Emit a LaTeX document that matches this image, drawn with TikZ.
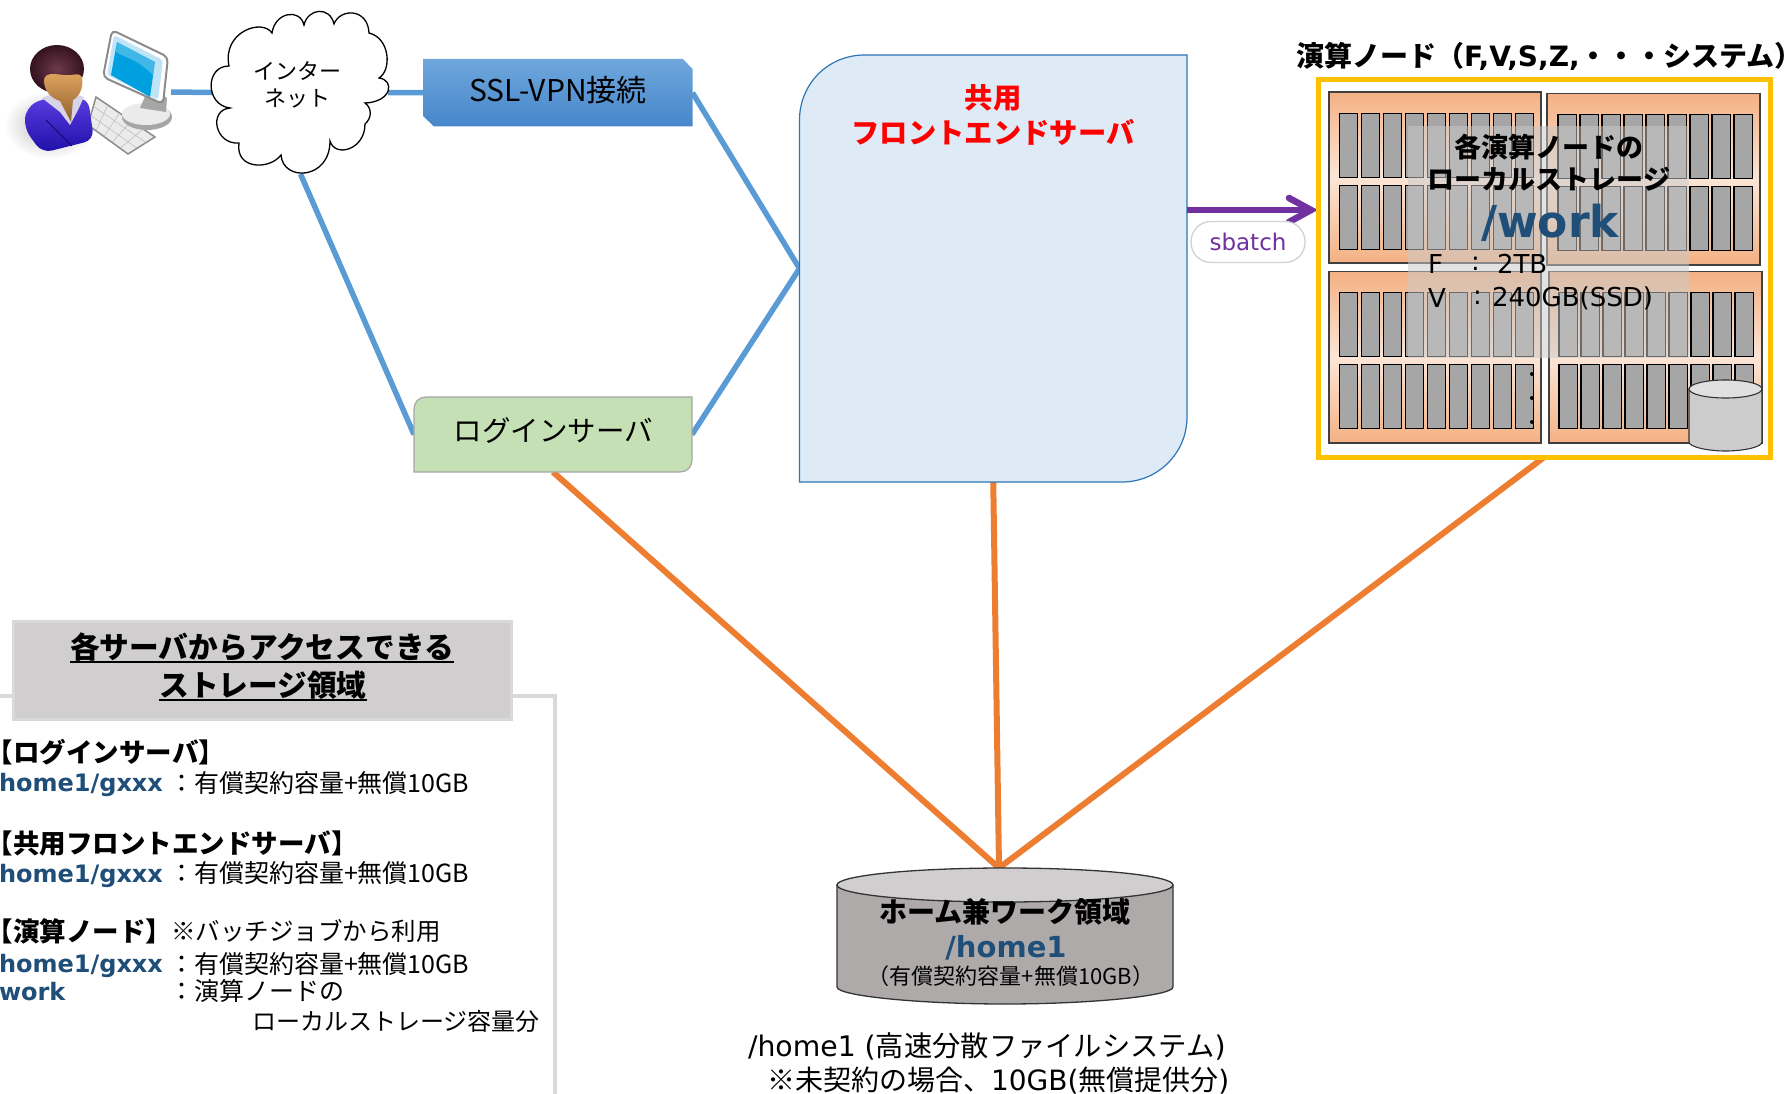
\documentclass[tikz,border=0pt]{standalone}
\usepackage{fontspec}
\usetikzlibrary{calc}
\setmainfont{Noto Sans CJK JP}
\newfontfamily\dv{DejaVu Sans}
\newcommand\fz[1]{\fontsize{#1}{#1}\selectfont}
\newcommand\ulx[1]{\leavevmode\setbox0\hbox{#1}\rlap{\rule[-5pt]{\wd0}{2.2pt}}\box0}
\definecolor{bluel}{HTML}{5B9BD5}
\definecolor{orangel}{HTML}{ED7D31}
\definecolor{navyt}{HTML}{1F4E79}
\definecolor{purpl}{HTML}{7030A0}
\definecolor{F4}{HTML}{F4B183}
\definecolor{FB}{HTML}{FBE5D6}
\definecolor{sslTop}{HTML}{6FA7DD}
\definecolor{sslBot}{HTML}{4686CA}
\definecolor{hairA}{HTML}{6E3A4A}
\definecolor{hairB}{HTML}{34121F}
\definecolor{faceA}{HTML}{E0A45E}
\definecolor{faceB}{HTML}{8F5E2E}
\definecolor{bodyA}{HTML}{5A3CE0}
\definecolor{bodyB}{HTML}{1E0FA8}
\definecolor{collar}{HTML}{D8D4E8}
\definecolor{scr}{HTML}{009FE0}
\definecolor{scrL}{HTML}{BFE3F7}
\tikzset{
 box/.style={inner sep=0pt,outer sep=0pt,minimum width=#1},
 txt/.style={inner sep=0pt,outer sep=0pt,text=black},
 bluelink/.style={draw=bluel,line width=5.5pt},
 orangelink/.style={draw=orangel,line width=6pt},
 panelbox/.style={draw=black!75,line width=1.2pt,top color=F4,bottom color=F4,middle color=FB},
 slotbox/.style={draw=black,line width=1.1pt,fill=black!35},
}
\newcommand\slots[3]{\foreach \i in {0,...,8}{\draw[slotbox] ({#1+\i*22},#2) rectangle ({#1+\i*22+18.3},#2+64);\draw[slotbox] ({#1+\i*22},#3) rectangle ({#1+\i*22+18.3},#3+64);}}
\begin{document}
\begin{tikzpicture}[x=1pt,y=-1pt]
\useasboundingbox (0,0) rectangle (1791,1094);
% anchors
\node[box=166pt,minimum height=100pt] (user) at (88,92) {};
\node[box=175pt,minimum height=163pt] (cloud) at (300.5,92.5) {};
\node[box=269.5pt,minimum height=67.5pt] (ssl) at (557.75,92.75) {};
\node[box=278pt,minimum height=75pt] (login) at (553,434.5) {};
\node[box=387.5pt,minimum height=427pt] (fe) at (993.25,268.5) {};
\node[box=452.7pt,minimum height=377pt] (frame) at (1544.35,268.5) {};
\coordinate (hometop) at (999,868);
\coordinate (sbfrom) at (fe.east |- 0,210);
\coordinate (sbto) at (1311,210);
\coordinate (sba) at (1289,198);
\coordinate (sbb) at (1289,222);
% connectors
\draw[bluelink] (user.east) -- (cloud.west);
\draw[bluelink] (cloud.east) -- (ssl.west);
\draw[bluelink] (cloud.south) -- (login.west);
\draw[bluelink] (ssl.east) -- (fe.west);
\draw[bluelink] (login.east) -- (fe.west);
\draw[orangelink] (login.south) -- (hometop);
\draw[orangelink] (fe.south) -- (hometop);
\draw[orangelink] (frame.south) -- (hometop);
% user icon
\shade[inner color=black!28,outer color=white] (50,125) ellipse [x radius=46,y radius=34];
\draw[black!45,line width=1.5pt,fill=black!8] (96,97) -- (155,137) -- (128,154) -- (88,125) -- cycle;
\foreach \t in {.2,.4,.6,.8}{\draw[black!30] ($(96,97)!\t!(155,137)$) -- ($(88,125)!\t!(128,154)$);}
\foreach \t in {.33,.66}{\draw[black!30] ($(96,97)!\t!(88,125)$) -- ($(155,137)!\t!(128,154)$);}
\fill[black!35] (147,117) ellipse [x radius=25,y radius=13];
\fill[black!8] (146,114) ellipse [x radius=24,y radius=11];
\fill[black!35] (150,85) -- (167,98) -- (166,112) -- (140,108) -- cycle;
\draw[black!45,fill=white,line width=2pt,rounded corners=5pt] (112,30) -- (168,57) -- (163,104) -- (103,77) -- cycle;
\fill[scrL,rounded corners=3pt] (114,35) -- (163,60) -- (158,100) -- (107,75) -- cycle;
\fill[scr] (117,42) -- (155,62) -- (150,97) -- (111,75) -- cycle;
\fill[white,opacity=.25] (117,42) -- (155,62) -- (153,75) .. controls (135,58) and (130,60) .. (116,52) -- cycle;
\shade[top color=bodyA,bottom color=bodyB,rounded corners=10pt] (43,98) -- (88,98) -- (94,140) -- (42,153) -- (24,128) -- (26,108) -- cycle;
\draw[bodyB!60!black,line width=.8pt] (46,120) -- (72,146);
\fill[collar] (42,98) -- (60,112) -- (70,125) -- (78,110) -- (84,97) -- (62,90) -- cycle;
\shade[inner color=hairA,outer color=hairB] (57,69) ellipse [x radius=27,y radius=24];
\shade[top color=faceA,bottom color=faceB] (44,80) .. controls (45,72) and (55,74) .. (63,75) .. controls (72,76) and (80,72) .. (82,77) .. controls (84,90) and (78,97) .. (73,100) -- (71,122) -- (60,101) .. controls (50,98) and (44,90) .. (44,80) -- cycle;
% cloud
\draw[line width=1.3pt,fill=white] (229,66) .. controls (222,32) and (262,18) .. (272,33) .. controls (275,12) and (300,8) .. (304,25) .. controls (308,8) and (330,6) .. (334,24) .. controls (340,8) and (368,8) .. (369,33) .. controls (390,38) and (392,70) .. (379,78) .. controls (395,80) and (392,102) .. (365,103) .. controls (372,108) and (372,118) .. (365,124) .. controls (365,150) and (335,158) .. (330,141) .. controls (330,180) and (283,182) .. (281,155) .. controls (270,170) and (235,170) .. (239,143) .. controls (215,145) and (208,110) .. (230,108) .. controls (205,105) and (205,66) .. (229,66) -- cycle;
\node[txt,align=center,font=\fz{22}] (cloudtxt) at (297,85) {インター\\[5pt]ネット};
% ssl
\shade[top color=sslTop,bottom color=sslBot] (423,59) -- (683,59) -- (692.5,69) -- (692.5,126.5) -- (434,126.5) -- (423,116) -- cycle;
\node[txt,font=\fz{30}] (ssltxt) at (558,90) {SSL-VPN接続};
% login
\draw[fill={rgb,255:red,197;green,224;blue,180},draw=black!35,line width=1.2pt] (414,409) .. controls (414,402) and (419,397) .. (426,397) -- (692,397) -- (692,460) .. controls (692,467) and (687,472) .. (680,472) -- (414,472) -- cycle;
\node[txt,font=\fz{28.5}] (logintxt) at (553.5,431) {ログインサーバ};
% front end
\draw[fill={rgb,255:red,222;green,235;blue,247},draw={rgb,255:red,46;green,117;blue,182},line width=1.2pt] (799.5,482) -- (799.5,120) .. controls (799.5,84) and (828,55) .. (864.5,55) -- (1187,55) -- (1187,417) .. controls (1187,453) and (1158,482) .. (1122,482) -- cycle;
\node[txt,align=center,font=\bfseries\fz{28.3},text=red] (fetxt) at (993,115) {共用\\[6pt]フロントエンドサーバ};
% sbatch
\draw[purpl,line width=6.5pt] (sbfrom) -- (sbto);
\draw[purpl,line width=6.5pt,line cap=round,line join=miter] (sba) -- (sbto) -- (sbb);
\node[draw=black!18,line width=1.3pt,fill=white,rounded corners=20pt,minimum width=114pt,minimum height=41pt,inner sep=0pt,text=purpl,font=\dv\fz{23}] (sb) at (1248,242) {sbatch};
% frame and panels
\draw[color={rgb,255:red,255;green,192;blue,0},line width=5pt] (frame.south west) rectangle (frame.north east);
\node[txt,anchor=west,font=\bfseries\fz{28}] (frametitle) at (1296,56) {演算ノード（{\dv F,V,S,Z,}・・・システム\makebox[0.5em][l]{）}};
\draw[panelbox] (1329,92) rectangle (1541,263);
\draw[panelbox] (1547,93.3) rectangle (1760,265);
\draw[panelbox] (1329,271.7) rectangle (1541,443);
\draw[panelbox] (1549,271.7) rectangle (1762,443);
\slots{1339.3}{113.3}{185.3}
\slots{1558}{114.7}{186.7}
\slots{1339.3}{292.7}{364.7}
\slots{1559}{292.7}{364.7}
\fill[black] (1532,374) circle [radius=2];
\fill[black] (1532,398) circle [radius=2];
\fill[black] (1532,422) circle [radius=2];
\fill[color={rgb,255:red,201;green,201;blue,201},opacity=.53] (1407.7,126) rectangle (1689,358);
\draw[black!80,line width=1.1pt,fill=black!20] (1689,389) -- (1689,442) .. controls (1689,447) and (1708,451) .. (1725.5,451) .. controls (1744,451) and (1762,447) .. (1762,442) -- (1762,389) -- cycle;
\draw[black!80,line width=1.1pt,fill=black!12] (1725.5,389) ellipse [x radius=36.5,y radius=9];
\node[txt,align=center,font=\bfseries\fz{27}] (wn) at (1549,163) {各演算ノードの\\[5pt]ローカルストレージ};
\node[txt,font=\dv\bfseries\fz{44},text=navyt] (wk) at (1550,223) {/work};
\node[txt,anchor=west,font=\dv\fz{26}] (wa) at (1428,264) {F};
\node[txt,anchor=west,font=\dv\fz{26}] (wb) at (1471,264) {:};
\node[txt,anchor=west,font=\dv\fz{26}] (wc) at (1497,264) {2TB};
\node[txt,anchor=west,font=\dv\fz{26}] (wd) at (1428,298) {V};
\node[txt,anchor=west,font=\dv\fz{26}] (we) at (1473,298) {:};
\node[txt,anchor=west,font=\dv\fz{26}] (wf) at (1492,298) {240GB(SSD)};
% home cylinder
\draw[black!80,line width=1.3pt,fill={rgb,255:red,174;green,170;blue,170}] (837,885) -- (837,987) .. controls (837,996) and (920,1004) .. (1005,1004) .. controls (1090,1004) and (1173,996) .. (1173,987) -- (1173,885) -- cycle;
\draw[black!80,line width=1.3pt,fill={rgb,255:red,208;green,206;blue,206}] (1005,885) ellipse [x radius=168,y radius=17];
\node[txt,font=\bfseries\fz{28}] (h1) at (1005,912) {ホーム兼ワーク領域};
\node[txt,font=\dv\bfseries\fz{29},text=navyt] (h2) at (1006,948) {/home1};
\node[txt,font=\fz{22}] (h3) at (1011,976) {（有償契約容量+無償10GB）};
\node[txt,anchor=west,font=\fz{28.3}] (h4) at (748,1046) {{\dv /home1 (}高速分散ファイルシステム{\dv )}};
\node[txt,anchor=west,font=\fz{28}] (h5) at (767,1081) {※未契約の場合、{\dv 10GB(}無償提供分{\dv )}};
% legend
\draw[black!15,line width=4pt] (0,696) -- (555,696) -- (555,1094);
\node[draw=black!15,line width=3pt,fill={rgb,255:red,208;green,206;blue,206},minimum width=498pt,minimum height=98pt,inner sep=0pt] (legend) at (262,670) {};
\node[txt,font=\bfseries\fz{29.7}] (l1) at (262,648) {\ulx{各サーバからアクセスできる}};
\node[txt,font=\bfseries\fz{29.7}] (l2) at (263,686) {\ulx{ストレージ領域}};
\newcommand\hg[3]{\node[txt,anchor=west,font=\dv\bfseries\fz{24},text=navyt] (hg#1) at (-1,#3) {home1/gxxx};\node[txt,anchor=west,font=\fz{25}] (hv#1) at (169,#2) {：有償契約容量+無償10GB};}
\node[txt,anchor=west,font=\bfseries\fz{26.5}] (a1) at (-13,752) {【ログインサーバ】};
\hg{a}{783}{785}
\node[txt,anchor=west,font=\bfseries\fz{26.5}] (a2) at (-13,843) {【共用フロントエンドサーバ】};
\hg{b}{873}{876}
\node[txt,anchor=west,font=\bfseries\fz{26.5}] (a3) at (-13,931) {【演算ノード】};
\node[txt,anchor=west,font=\fz{24.5}] (a4) at (171,931) {※バッチジョブから利用};
\hg{c}{964}{966}
\node[txt,anchor=west,font=\dv\bfseries\fz{24},text=navyt] (a5) at (-1,992) {work};
\node[txt,anchor=west,font=\fz{25}] (a6) at (169,991) {：演算ノードの};
\node[txt,anchor=west,font=\fz{24}] (a7) at (252,1021) {ローカルストレージ容量分};
\end{tikzpicture}
\end{document}
